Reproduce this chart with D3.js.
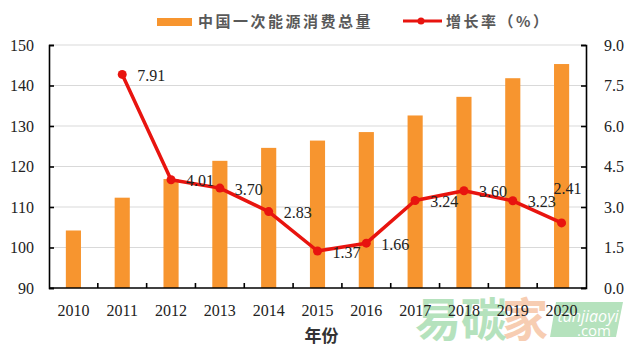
<!DOCTYPE html>
<html>
<head>
<meta charset="utf-8">
<script src="https://cdn.jsdelivr.net/npm/d3@7"></script>
<style>
  body { margin: 0; background: #fff; }
  svg { display: block; }
  .num { font-family: "Liberation Serif", "Times New Roman", "DejaVu Serif", serif; }
  .cjk { font-family: "Noto Sans CJK SC", sans-serif; }
</style>
</head>
<body>
<div id="chart"></div>
<script>
var years = ["2010","2011","2012","2013","2014","2015","2016","2017","2018","2019","2020"];
var consumption = [104.2, 112.3, 116.9, 121.4, 124.6, 126.4, 128.5, 132.6, 137.2, 141.8, 145.3];
var growthYears = ["2011","2012","2013","2014","2015","2016","2017","2018","2019","2020"];
var growth = [7.91, 4.01, 3.70, 2.83, 1.37, 1.66, 3.24, 3.60, 3.23, 2.41];
var leftTicks = [90, 100, 110, 120, 130, 140, 150];
var rightTicks = [0, 1.5, 3.0, 4.5, 6.0, 7.5, 9.0];

var fullwidth = 630, fullheight = 354;
var margin = {top: 45, right: 44, bottom: 66, left: 49};
var width = fullwidth - margin.left - margin.right;
var height = fullheight - margin.top - margin.bottom;

var vis = d3.select("#chart").append("svg")
    .attr("width", fullwidth)
    .attr("height", fullheight);

// watermark (behind everything)
var wm = vis.append("g").attr("class", "cjk");
wm.append("text")
    .attr("x", 415).attr("y", 336)
    .attr("font-size", "46px").attr("font-weight", "bold")
    .attr("fill", "#b5e2bd")
    .text("易碳");
wm.append("text")
    .attr("x", 502).attr("y", 336)
    .attr("font-size", "46px").attr("font-weight", "bold")
    .attr("fill", "#f7cdb2")
    .text("家");
wm.append("path")
    .attr("d", "M556,302 L623,302 L616,337 L550,337 Z")
    .attr("fill", "#b5e2bd");
wm.append("text")
    .attr("x", 588).attr("y", 322)
    .attr("text-anchor", "middle")
    .attr("font-family", "'Open Sans', sans-serif").attr("font-size", "16px").attr("font-style", "italic")
    .attr("fill", "#fff")
    .text("tanjiaoyi");
wm.append("text")
    .attr("x", 594).attr("y", 336)
    .attr("text-anchor", "middle")
    .attr("font-family", "'Open Sans', sans-serif").attr("font-size", "15px")
    .attr("fill", "#fff")
    .text(".com");

var svg = vis.append("g")
    .attr("transform", "translate(" + margin.left + "," + margin.top + ")");

var xScale = d3.scaleBand().domain(years).range([0, width]).padding(0);
var yLeft = d3.scaleLinear().domain([90, 150]).range([height, 0]);
var yRight = d3.scaleLinear().domain([0, 9]).range([height, 0]);

// gridlines
svg.selectAll("line.grid")
    .data(leftTicks.slice(1))
    .enter().append("line")
    .attr("class", "grid")
    .attr("x1", 0).attr("x2", width)
    .attr("y1", function(d) { return yLeft(d); })
    .attr("y2", function(d) { return yLeft(d); })
    .attr("stroke", "#d9d9d9")
    .attr("stroke-width", 1);

// bars
var bw = xScale.bandwidth() * 0.31;
svg.selectAll("rect.bar")
    .data(consumption)
    .enter().append("rect")
    .attr("class", "bar")
    .attr("x", function(d, i) { return xScale(years[i]) + (xScale.bandwidth() - bw) / 2; })
    .attr("width", bw)
    .attr("y", function(d) { return yLeft(d); })
    .attr("height", function(d) { return height - yLeft(d); })
    .attr("fill", "#F7952F");

// axes
var yAxisL = d3.axisLeft(yLeft).tickValues(leftTicks).tickSize(-5).tickPadding(15).tickFormat(d3.format("d"));
var yAxisR = d3.axisRight(yRight).tickValues(rightTicks).tickSize(-5).tickPadding(18).tickFormat(d3.format(".1f"));

var gl = svg.append("g").call(yAxisL);
var gr = svg.append("g").attr("transform", "translate(" + width + ",0)").call(yAxisR);
[gl, gr].forEach(function(g) {
    g.attr("font-family", null);
    g.select(".domain").attr("stroke", "#000").attr("stroke-width", 1.6);
    g.selectAll(".tick line").attr("stroke", "#000").attr("stroke-width", 1.6);
    g.selectAll(".tick text")
        .attr("class", "num")
        .attr("font-size", "16px")
        .attr("fill", "#222");
});

// x axis: ticks at category boundaries
var gx = svg.append("g").attr("transform", "translate(0," + height + ")");
gx.append("line")
    .attr("x1", 0).attr("x2", width)
    .attr("stroke", "#000").attr("stroke-width", 1.6);
gx.selectAll("line.tk")
    .data(years.slice(1))
    .enter().append("line")
    .attr("class", "tk")
    .attr("x1", function(d) { return xScale(d); })
    .attr("x2", function(d) { return xScale(d); })
    .attr("y1", 0).attr("y2", -5)
    .attr("stroke", "#000").attr("stroke-width", 1.6);
gx.selectAll("text.yr")
    .data(years)
    .enter().append("text")
    .attr("class", "yr num")
    .attr("x", function(d) { return xScale(d) + xScale.bandwidth() / 2; })
    .attr("y", 28)
    .attr("text-anchor", "middle")
    .attr("font-size", "16px")
    .attr("fill", "#222")
    .text(function(d) { return d; });

svg.append("text")
    .attr("class", "cjk")
    .attr("x", width / 2 + 4)
    .attr("y", height + 54)
    .attr("text-anchor", "middle")
    .attr("font-weight", "bold")
    .attr("font-size", "17px")
    .attr("fill", "#333")
    .text("年份");

// growth line
var cx = function(i) { return xScale(growthYears[i]) + xScale.bandwidth() / 2; };
var line = d3.line()
    .x(function(d, i) { return cx(i); })
    .y(function(d) { return yRight(d); });

svg.append("path")
    .datum(growth)
    .attr("d", line)
    .attr("fill", "none")
    .attr("stroke", "#E8140F")
    .attr("stroke-width", 3.5)
    .attr("stroke-linejoin", "round");

svg.selectAll("circle.pt")
    .data(growth)
    .enter().append("circle")
    .attr("class", "pt")
    .attr("cx", function(d, i) { return cx(i); })
    .attr("cy", function(d) { return yRight(d); })
    .attr("r", 4.5)
    .attr("fill", "#E8140F");

var last = growth.length - 1;
svg.selectAll("text.val")
    .data(growth)
    .enter().append("text")
    .attr("class", "val num")
    .attr("x", function(d, i) { return i === last ? cx(i) + 6 : cx(i) + 15; })
    .attr("y", function(d, i) { return i === last ? yRight(d) - 35 : yRight(d) + 1; })
    .attr("dy", "0.35em")
    .attr("text-anchor", function(d, i) { return i === last ? "middle" : "start"; })
    .attr("font-size", "16px")
    .attr("fill", "#222")
    .text(function(d) { return d3.format(".2f")(d); });

// legend
var legend = vis.append("g").attr("class", "cjk").attr("font-weight", "bold");
legend.append("rect")
    .attr("x", 157).attr("y", 18).attr("width", 35).attr("height", 8)
    .attr("fill", "#F7952F");
legend.append("text")
    .attr("x", 198).attr("y", 22).attr("dy", "0.35em")
    .attr("font-size", "15px").attr("letter-spacing", "2.5px")
    .attr("fill", "#595959")
    .text("中国一次能源消费总量");
legend.append("line")
    .attr("x1", 403).attr("x2", 442).attr("y1", 21).attr("y2", 21)
    .attr("stroke", "#E8140F").attr("stroke-width", 3);
legend.append("circle")
    .attr("cx", 421).attr("cy", 21).attr("r", 3.5)
    .attr("fill", "#E8140F");
legend.append("text")
    .attr("x", 446).attr("y", 22).attr("dy", "0.35em")
    .attr("font-size", "15px").attr("letter-spacing", "2.5px")
    .attr("fill", "#595959")
    .text("增长率（%）");
</script>
</body>
</html>
